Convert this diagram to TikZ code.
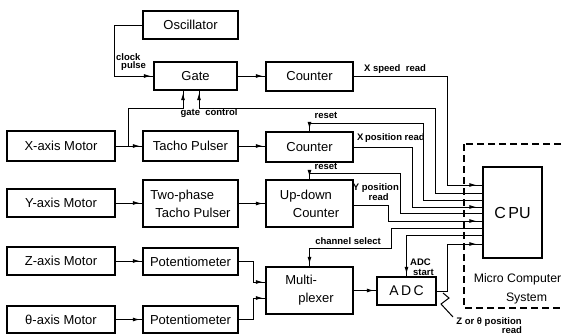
\documentclass[tikz,border=0pt]{standalone}
\usepackage{fontspec}
\setmainfont{Liberation Sans}
\usetikzlibrary{arrows.meta,decorations.markings}
\tikzset{
  box/.style={draw, line width=1.2pt, inner sep=1pt, font=\fontsize{13}{18}\selectfont},
  wire/.style={line width=1pt},
  arr/.style={wire, postaction={decorate}, decoration={markings, mark=at position -2.5pt with {\arrow{Latex[length=7pt,width=4pt]}}}},
  arrcpu/.style={wire, postaction={decorate}, decoration={markings, mark=at position -6pt with {\arrow{Latex[length=7pt,width=4pt]}}}},
  lbl/.style={font=\bfseries\fontsize{9.5}{11}\selectfont, inner sep=0pt},
  big/.style={font=\fontsize{12.3}{14}\selectfont, inner sep=0pt},
}
\begin{document}
\begin{tikzpicture}[x=1pt,y=-1pt]
\useasboundingbox (0,0) rectangle (562,335);
% boxes
\node[box, minimum width=95, minimum height=28] (osc) at (190.5,25) {Oscillator};
\node[box, minimum width=83, minimum height=28] (gate) at (195.5,76) {Gate};
\node[box, minimum width=87, minimum height=29] (c1) at (309.5,76.5) {Counter};
\node[box, minimum width=108, minimum height=30] (xm) at (61,146) {X-axis Motor};
\node[box, minimum width=95, minimum height=30] (tacho) at (190.5,146) {Tacho Pulser};
\node[box, minimum width=87, minimum height=30] (c2) at (309.5,147) {Counter};
\node[box, minimum width=108, minimum height=28] (ym) at (61,203) {Y-axis Motor};
\node[box, minimum width=95, minimum height=47, align=left] (tp) at (190.5,203.5) {Two-phase\\\hspace*{5pt}Tacho Pulser};
\node[box, minimum width=87, minimum height=47, align=left] (ud) at (309.5,203.5) {Up-down\\\hspace*{13pt}Counter};
\node[box, minimum width=108, minimum height=28] (zm) at (61,261) {Z-axis Motor};
\node[box, minimum width=95, minimum height=27] (p1) at (190.5,261.5) {Potentiometer};
\node[box, minimum width=108, minimum height=27] (tm) at (61,319.5) {θ-axis Motor};
\node[box, minimum width=95, minimum height=27] (p2) at (190.5,319.5) {Potentiometer};
\node[box, minimum width=87, minimum height=47, align=left] (mux) at (309.5,290.5) {Multi-\\\hspace*{13pt}plexer};
\node[box, minimum width=59, minimum height=28, font=\fontsize{14}{16}\selectfont] (adc) at (406.5,291) {A\,D\,C};
\node[box, minimum width=59, minimum height=91, font=\fontsize{16}{18}\selectfont] (cpu) at (512.5,212.5) {C\,PU};
% dashed system frame
\draw[line width=1.2pt, dash pattern=on 7pt off 4pt] (464,144) rectangle (585,308);
\node[big] (mc) at (517.5,279) {Micro Computer};
\node[big] (sys) at (526.5,298) {System};
% CPU entry levels
\coordinate (r1) at (0,185);
\coordinate (r2) at (0,193);
\coordinate (r3) at (0,200);
\coordinate (r4) at (0,207);
\coordinate (r5) at (0,213);
\coordinate (r6) at (0,221);
\coordinate (r7) at (0,228);
\coordinate (r8) at (0,235);
\coordinate (r9) at (0,244);
% connectors
\draw[arr] (osc.west) -- ++(-28,0) |- (gate.west);
\draw[arr] (gate.east) -- (gate.east -| c1.west);
\draw[arr] (xm.east) -- (xm.east -| tacho.west);
\draw[arr] ([xshift=13pt]xm.east) |- (183,108) -- ([xshift=-12.5pt]gate.south);
\draw[arr] (tacho.east) -- (tacho.east -| c2.west);
\draw[arr] (ym.east) -- (ym.east -| tp.west);
\draw[arr] (tp.east) -- (tp.east -| ud.west);
\draw[arr] (zm.east) -- (zm.east -| p1.west);
\draw[arr] (tm.east) -- (tm.east -| p2.west);
\draw[arr] (p1.east) -- ++(15,0) |- ([yshift=8.5pt]mux.west);
\draw[arr] (p2.east) -- ++(15,0) |- ([yshift=-7.5pt]mux.west);
\draw[arr] (mux.east) -- (mux.east -| adc.west);
\draw[arrcpu] (c1.east) -- ++(94,0) |- (cpu.west |- r1);
\draw[arr] (cpu.west |- r2) -| (435,108) -| ([xshift=3.5pt]gate.south);
\draw[arr] (cpu.west |- r3) -| (423,123) -| (c2.north);
\draw[arrcpu] (c2.east) -- ++(59,0) |- (cpu.west |- r4);
\draw[arr] (cpu.west |- r5) -| (400,173) -| (ud.north);
\draw[arrcpu] ([yshift=-1.5pt]ud.east) -- ++(35,0) |- (cpu.west |- r6);
\draw[arr] (cpu.west |- r7) -| (391,248) -| (mux.north);
\draw[arr] (cpu.west |- r8) -| (adc.north);
\draw[arrcpu] (adc.east) -- ++(11,0) |- (cpu.west |- r9);
\draw[wire] (443,293) -- (449,298) -- (441,304) -- (453,317);
% labels
\node[lbl, anchor=west] (lclock) at (116,57) {clock};
\node[lbl, anchor=west] (lpulse) at (121,66.5) {pulse};
\node[lbl] (lgate) at (209,113.5) {gate\ \ control};
\node[lbl] (lxs) at (395,69) {X speed\ \ read};
\node[lbl] (lr1) at (326,115) {reset};
\node[lbl] (lxp) at (391,138) {X\,position read};
\node[lbl] (lr2) at (326,166) {reset};
\node[lbl, anchor=east] (lyp) at (399,188) {Y position};
\node[lbl, anchor=east] (lyr) at (389,197.5) {read};
\node[lbl] (lch) at (348,241) {channel\ select};
\node[lbl, anchor=west] (ladc) at (410,262) {ADC};
\node[lbl, anchor=west] (lst) at (413,272.5) {start};
\node[lbl] (lz) at (489,322) {Z or θ position};
\node[lbl] (lzr) at (512,330) {read};
\end{tikzpicture}
\end{document}
